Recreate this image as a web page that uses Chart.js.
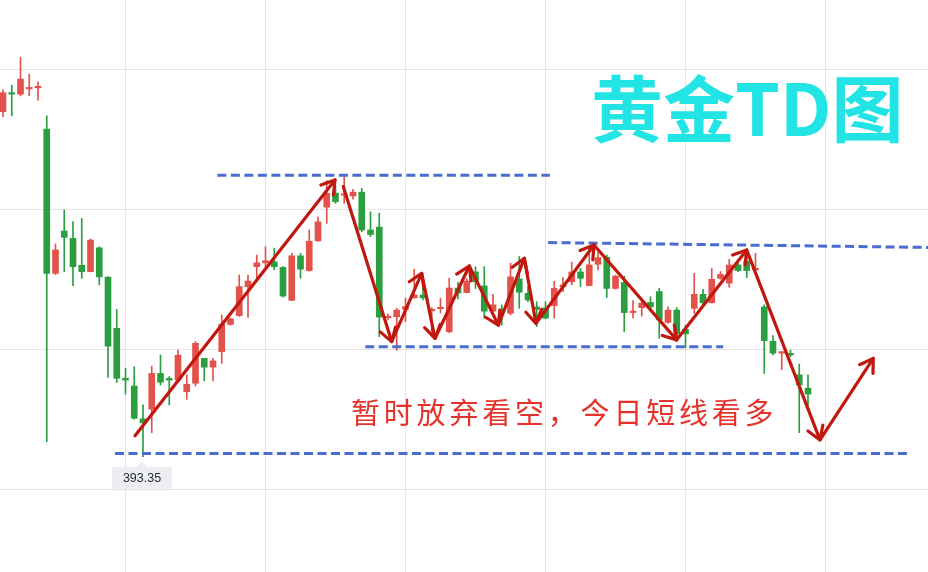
<!DOCTYPE html>
<html><head><meta charset="utf-8">
<script src="https://cdn.jsdelivr.net/npm/chart.js@4.4.1/dist/chart.umd.min.js"></script>
<style>html,body{margin:0;padding:0;background:#fff;overflow:hidden}#wrap{position:relative;width:928px;height:572px}canvas{display:block}</style>
</head><body><div id="wrap"><canvas id="c" width="928" height="572"></canvas></div>
<script>
// ---- data (one candle per trading day; index = day number) ----
const opens = [403.21,403.75,403.71,403.86,403.89,402.71,398.59,399.80,399.59,398.82,398.64,399.32,398.48,397.02,395.59,395.37,394.43,394.71,395.73,395.59,395.54,395.21,395.45,396.16,395.91,396.35,397.13,397.38,398.21,398.78,398.89,398.92,398.76,397.82,399.09,398.67,399.52,400.48,400.88,400.82,400.80,400.91,399.83,399.91,397.32,397.35,397.56,397.89,397.97,397.52,397.58,396.92,398.17,398.04,398.63,398.23,397.51,397.57,397.45,398.43,398.02,397.63,397.60,397.67,398.21,398.35,398.63,398.24,398.85,399.05,398.16,398.33,397.47,397.61,397.76,398.07,397.19,397.54,396.99,397.59,397.99,397.75,398.45,398.31,398.83,398.94,398.69,397.63,396.65,396.31,396.29,395.69,395.31];
const highs = [403.83,403.97,404.76,404.28,404.06,403.09,399.43,400.40,400.07,400.16,399.57,399.35,398.50,397.56,395.88,395.92,394.83,395.94,396.26,395.64,396.40,395.69,396.64,396.16,396.16,397.40,397.31,398.54,398.54,399.11,399.35,399.31,398.78,399.16,399.16,399.83,400.20,401.24,401.09,401.35,400.99,401.02,400.35,400.31,397.43,397.59,397.88,398.71,398.16,397.61,397.88,398.45,398.33,398.44,398.78,398.78,397.99,397.69,398.88,399.07,398.21,397.78,397.78,398.36,398.47,398.91,398.73,399.33,399.20,399.11,398.54,398.51,397.81,397.83,397.92,398.16,397.63,397.61,397.11,398.59,398.13,398.73,398.64,398.99,398.88,399.19,399.16,397.69,396.81,396.35,396.40,396.00,395.69];
const lows = [403.07,403.09,403.66,403.67,403.54,393.78,398.55,398.64,398.24,398.45,398.63,398.26,395.62,395.47,395.14,394.42,393.35,394.04,395.40,394.83,395.54,394.99,395.37,395.52,395.52,396.02,397.11,397.36,397.33,398.40,398.78,398.69,397.91,397.81,398.45,398.65,399.50,400.02,400.59,400.59,400.71,399.78,399.64,396.78,397.26,396.39,397.21,397.88,397.83,396.80,397.46,396.89,397.86,398.03,398.16,397.31,397.50,397.11,397.40,397.59,397.78,397.07,397.29,397.31,398.07,398.26,398.21,398.23,398.69,397.90,398.14,396.92,397.32,397.37,397.59,396.73,397.17,396.63,396.46,397.45,397.69,397.74,398.42,398.19,398.64,398.47,398.67,395.73,396.26,395.84,396.21,394.04,394.80];
const closes = [403.75,403.71,404.14,403.89,403.92,398.59,399.26,399.62,398.78,398.64,399.54,398.49,396.51,395.59,395.54,394.45,394.32,395.73,395.48,395.54,396.25,395.42,396.59,395.91,396.09,397.14,397.29,398.21,398.37,398.89,398.95,398.78,397.94,399.09,398.71,399.51,400.06,400.88,400.64,400.86,400.91,399.83,399.70,397.34,397.35,397.54,397.64,397.97,397.89,397.56,397.61,398.17,398.03,398.37,398.35,397.51,397.69,397.48,398.49,398.05,397.83,397.56,397.31,398.16,398.26,398.63,398.45,398.83,399.04,398.16,398.51,397.47,397.49,397.74,397.63,397.26,397.54,396.87,396.86,397.99,397.75,398.42,398.56,398.83,398.67,398.67,398.71,396.67,396.31,396.33,396.26,395.40,395.14];

// dashed support / resistance lines: [dayIndex, price]
const topLine     = [[24.5, 401.39], [62.5, 401.39]];
const rangeHigh   = [[62.3, 399.47], [105.8, 399.33]];
const rangeLow    = [[41.4, 396.49], [82.3, 396.49]];
const bottomLine  = [[12.8, 393.44], [103.3, 393.44]];

// hand-drawn arrows: [dayIndex, price]
const upArrow   = [[15.09, 393.95], [37.94, 401.26]];
const zigArrow  = [[38.89, 401.07],[44.42, 396.64],[47.85, 398.59],[49.37, 396.73],[53.29, 398.80],[56.61, 397.11],[59.58, 399.02],[60.91, 397.16],[67.54, 399.40],[76.99, 396.69],[84.99, 399.26],[93.37, 393.83],[99.46, 396.16]];

const xGridAt = [14, 30, 46, 62, 78, 94];
const yGridAt = [392.4, 396.4, 400.4, 404.4];

const titleText = '黄金TD图';
const noteText = '暂时放弃看空，今日短线看多';

// ---- build ----
const UP = '#e2524a', DOWN = '#2b9e3f';
const candleColors = opens.map((o, i) => closes[i] >= o ? UP : DOWN);
const wickData = lows.map((l, i) => ({x: i, y: [l, highs[i]]}));
const bodyData = opens.map((o, i) => ({x: i, y: [o, closes[i]]}));
const toXY = arr => arr.map(p => ({x: p[0], y: p[1]}));

const dashed = (pts) => ({type: 'line', data: toXY(pts), borderColor: '#4a6bcf', borderWidth: 3, borderDash: [9, 4.5], pointRadius: 0, fill: false, order: 1});
const arrow = (pts) => ({type: 'line', data: toXY(pts), borderColor: '#c0170f', borderWidth: 3.2, pointRadius: 0, fill: false, order: 0, arrowHeads: true, borderJoinStyle: 'round', borderCapStyle: 'round'});

const overlay = {
  id: 'overlay',
  afterDatasetsDraw(chart) {
    const ctx = chart.ctx;
    chart.data.datasets.forEach((ds, i) => {
      if (!ds.arrowHeads) return;
      const pts = chart.getDatasetMeta(i).data;
      ctx.save();
      ctx.strokeStyle = ds.borderColor; ctx.lineWidth = ds.borderWidth;
      ctx.lineCap = 'round'; ctx.lineJoin = 'round';
      for (let j = 1; j < pts.length; j++) {
        const a = pts[j - 1], b = pts[j];
        const ang = Math.atan2(a.y - b.y, a.x - b.x);
        const L = 15, sp = 0.56;
        ctx.beginPath();
        ctx.moveTo(b.x + L * Math.cos(ang + sp), b.y + L * Math.sin(ang + sp));
        ctx.lineTo(b.x, b.y);
        ctx.lineTo(b.x + L * Math.cos(ang - sp), b.y + L * Math.sin(ang - sp));
        ctx.stroke();
      }
      ctx.restore();
    });
  },
  afterDraw(chart) {
    const ctx = chart.ctx, xs = chart.scales.x, ys = chart.scales.y;
    ctx.save();
    // low price marker
    let mi = 0; lows.forEach((v, i) => { if (v < lows[mi]) mi = i; });
    const lx = xs.getPixelForValue(mi) - 1, ly = ys.getPixelForValue(lows[mi]);
    const bw = 60, bh = 22, by = ly + 10;
    ctx.fillStyle = '#eceef2';
    ctx.beginPath();
    ctx.moveTo(lx - 5, by); ctx.lineTo(lx, by - 5); ctx.lineTo(lx + 5, by);
    ctx.lineTo(lx + bw / 2, by); ctx.lineTo(lx + bw / 2, by + bh); ctx.lineTo(lx - bw / 2, by + bh); ctx.lineTo(lx - bw / 2, by);
    ctx.closePath(); ctx.fill();
    ctx.fillStyle = '#2a2e39'; ctx.font = '12.5px "Liberation Sans", Arial, sans-serif';
    ctx.textAlign = 'center'; ctx.textBaseline = 'middle';
    ctx.fillText(lows[mi].toFixed(2), lx, by + bh / 2 + 1);
    // title
    ctx.textAlign = 'left'; ctx.textBaseline = 'alphabetic';
    ctx.font = 'bold 72px "Noto Sans CJK SC"';
    ctx.fillStyle = '#22e4e4';
    ctx.fillText(titleText, 591, 136);
    // note
    ctx.font = '29px "Noto Sans CJK SC"';
    ctx.letterSpacing = '3.8px';
    ctx.fillStyle = '#e5322a';
    ctx.textBaseline = 'middle';
    ctx.fillText(noteText, 351, 413);
    ctx.restore();
  }
};

new Chart(document.getElementById('c'), {
  type: 'bar',
  data: {
    datasets: [
      arrow(upArrow), arrow(zigArrow),
      dashed(topLine), dashed(rangeHigh), dashed(rangeLow), dashed(bottomLine),
      {type: 'bar', data: bodyData, backgroundColor: candleColors, barThickness: 6, minBarLength: 1.5, grouped: false, order: 2, borderWidth: 0},
      {type: 'bar', data: wickData, backgroundColor: candleColors, barThickness: 1, grouped: false, order: 3, borderWidth: 0}
    ]
  },
  options: {
    responsive: false, animation: false, events: [],
    layout: {padding: 0},
    plugins: {legend: {display: false}, tooltip: {enabled: false}},
    scales: {
      x: {type: 'linear', min: -3 / 8.75, max: (928 - 3) / 8.75, offset: false,
          grid: {color: '#e4e4e4', drawTicks: false, offset: false}, border: {display: false}, ticks: {display: false},
          afterBuildTicks: s => { s.ticks = xGridAt.map(v => ({value: v})); }},
      y: {type: 'linear', min: 406.40 - 572 / 35, max: 406.40,
          grid: {color: '#e4e4e4', drawTicks: false, offset: false}, border: {display: false}, ticks: {display: false},
          afterBuildTicks: s => { s.ticks = yGridAt.map(v => ({value: v})); }}
    }
  },
  plugins: [overlay]
});
</script></body></html>
